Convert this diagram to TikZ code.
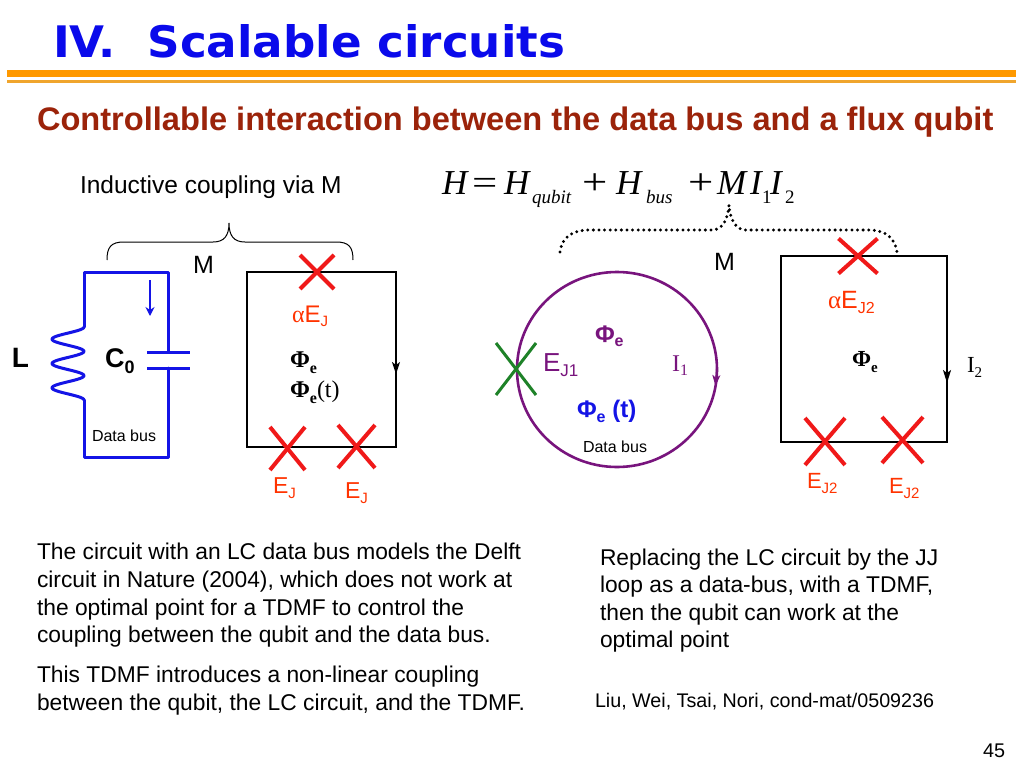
\documentclass[tikz,border=0pt]{standalone}
\usepackage{fontspec}
\usetikzlibrary{arrows.meta}
\setmainfont{Liberation Serif}
\setsansfont{Liberation Sans}
\newfontfamily\arial{Liberation Sans}
\newfontfamily\tnr{Liberation Serif}
\newfontfamily\heavy{DejaVu Sans}
\definecolor{titleblue}{RGB}{10,10,235}
\definecolor{subred}{RGB}{155,35,10}
\definecolor{orangeA}{RGB}{255,153,0}
\definecolor{orangeB}{RGB}{240,165,45}
\definecolor{busblue}{RGB}{20,20,230}
\definecolor{xred}{RGB}{240,25,25}
\definecolor{lred}{RGB}{255,51,0}
\definecolor{purp}{RGB}{120,20,125}
\definecolor{jgreen}{RGB}{30,130,40}
\newcommand\fs[1]{\fontsize{#1}{#1}\selectfont}
\newcommand\jjx[6]{\coordinate (#1) at (#2,#3);
  \draw[#6] (#1) ++(-#4,-#5) -- ++({2*#4},{2*#5});
  \draw[#6] (#1) ++(#4,-#5) -- ++({-2*#4},{2*#5});}
\begin{document}
\begin{tikzpicture}[x=1pt,y=-1pt,
  every node/.style={inner sep=0pt,outer sep=0pt},
  lbl/.style={anchor=base west},
  buswire/.style={line width=3pt,busblue,line cap=round,line join=round},
  qwire/.style={line width=2.6pt,black,line join=miter},
  jred/.style={line width=4pt,xred},
  jgrn/.style={line width=3pt,jgreen},
  body/.style={anchor=base west,font=\arial\fs{22.8}},
  dotbrace/.style={line width=3.3pt,line cap=round,dash pattern=on 0pt off 5.6pt}]
\useasboundingbox (0,0) rectangle (1024,768);
\fill[white] (0,0) rectangle (1024,768);

% ---- title and rules
\node[lbl,text=titleblue] (title) at (53,57) {\resizebox{512pt}{33pt}{\heavy\bfseries IV.\ \ Scalable circuits}};
\fill[orangeA] (7,70) rectangle (1016,77);
\fill[orangeB] (7,80) rectangle (1016,83);
\node[lbl,text=subred] (subtitle) at (37,130) {\arial\bfseries\fs{32.6}Controllable interaction between the data bus and a flux qubit};

% ---- left part
\node[lbl] (ind) at (80,193) {\arial\fs{24.5}Inductive coupling via M};
\draw[line width=1pt] (107,260) .. controls (107,247) and (111,242) .. (124,242) -- (213,242)
  .. controls (224,242) and (229,236) .. (229,223)
  .. controls (229,236) and (234,242) .. (245,242) -- (336,242)
  .. controls (349,242) and (353,247) .. (353,260);
\node[lbl] (mleft) at (193,273) {\arial\fs{25}M};

% LC data bus
\coordinate (tl) at (84,272);
\coordinate (tr) at (168,272);
\coordinate (bl) at (84,457);
\coordinate (br) at (168,457);
\coordinate (ltop) at (84,327);
\coordinate (lbot) at (84,400);
\coordinate (cp1) at (168,352);
\coordinate (cp2) at (168,368);
\draw[buswire] (ltop) -- (tl) -- (tr) -- (cp1);
\draw[buswire] (cp2) -- (br) -- (bl) -- (lbot);
\draw[buswire] plot[domain=0:1,samples=90,smooth] ({84-16*(1-cos(3*360*\x))},{327+73*\x});
\draw[buswire,line cap=butt] (147,352) -- (190,352);
\draw[buswire,line cap=butt] (147,368) -- (190,368);
\draw[busblue,line width=2pt,-{Stealth[length=9pt,width=9pt]}] (150,280) -- (150,316);
\node[lbl] (Llab) at (12,367) {\arial\bfseries\fs{28}L};
\node[lbl] (C0lab) at (105,367) {\arial\bfseries\fs{27}C\raisebox{-6pt}{\fs{18}0}};
\node[lbl] (dbl) at (92,441) {\arial\fs{16}Data bus};

% flux qubit left
\coordinate (q1a) at (247,272);
\coordinate (q1b) at (396,447);
\draw[qwire] (q1a) rectangle (q1b);
\draw[line width=1.6pt,-{Stealth[length=12pt,width=8pt,inset=3pt]}] (396,358) -- (396,374);
\jjx{ja}{317}{272}{17}{17}{jred}
\jjx{jb}{287.5}{448.5}{17.5}{21.5}{jred}
\jjx{jc}{356.5}{446.5}{18.5}{21.5}{jred}
\node[lbl,text=lred] (aej) at (292,322) {\fs{24}\tnr α\arial E\raisebox{-4pt}{\fs{15}J}};
\node[lbl] (phi1) at (290,367) {\tnr\bfseries\fs{24}Φ\raisebox{-6pt}{\fs{16}e}};
\node[lbl] (phi2) at (290,397) {\tnr\fs{24}{\bfseries Φ\raisebox{-6pt}{\fs{16}e}}(t)};
\node[lbl,text=lred] (ej1) at (273,493) {\arial\fs{23}E\raisebox{-5pt}{\fs{15}J}};
\node[lbl,text=lred] (ej2) at (345,498) {\arial\fs{23}E\raisebox{-5pt}{\fs{15}J}};

% ---- right part: Hamiltonian
\node[lbl] (hA) at (442,194) {\tnr\itshape\fs{35}H};
\node[lbl] (eq) at (472,194) {\tnr\fs{32}\scalebox{1.4}[1.1]{=}};
\node[lbl] (hB) at (504,194) {\tnr\itshape\fs{35}H};
\node[lbl] (sq) at (532,203) {\tnr\itshape\fs{19}qubit};
\node[lbl] (p1) at (582,194) {\tnr\fs{32}\scalebox{1.4}[1.15]{+}};
\node[lbl] (hC) at (616,194) {\tnr\itshape\fs{35}H};
\node[lbl] (sb) at (646,203) {\tnr\itshape\fs{19}bus};
\node[lbl] (p2) at (688,194) {\tnr\fs{32}\scalebox{1.4}[1.15]{+}};
\node[lbl] (mM) at (717,194) {\tnr\itshape\fs{35}M};
\node[lbl] (iA) at (750,194) {\tnr\itshape\fs{35}I};
\node[lbl] (s1) at (762,203) {\tnr\fs{19}1};
\node[lbl] (iB) at (770,194) {\tnr\itshape\fs{35}I};
\node[lbl] (s2) at (785,203) {\tnr\fs{19}2};

\draw[dotbrace] (560,252) .. controls (562,237) and (572,230) .. (590,230) -- (712,230)
  .. controls (722,230) and (728,220) .. (729,205)
  .. controls (730,220) and (736,230) .. (746,230) -- (868,230)
  .. controls (886,230) and (895,238) .. (897,252);
\node[lbl] (mright) at (714,270) {\arial\fs{25}M};

% JJ loop data bus
\coordinate (cc) at (617,369.5);
\draw[purp,line width=2.6pt] (cc) ellipse[x radius=100,y radius=97.5];
\draw[purp,line width=1.6pt,-{Stealth[length=11pt,width=8pt,inset=3pt]}] (717,366) -- (715.5,386);
\jjx{jg}{516}{369}{20}{26}{jgrn}
\node[lbl,text=purp] (ej1l) at (543,371) {\arial\fs{26}E\raisebox{-5pt}{\fs{17}J1}};
\node[lbl,text=purp] (phip) at (595,342) {\arial\bfseries\fs{24}Φ\raisebox{-4pt}{\fs{16}e}};
\node[lbl,text=purp] (i1) at (672,371) {\tnr\fs{24}I\raisebox{-4pt}{\fs{16}1}};
\node[lbl,text=busblue] (phib) at (577,417) {\arial\bfseries\fs{24}Φ\raisebox{-5pt}{\fs{16}e} (t)};
\node[lbl] (dbr) at (583,452) {\arial\fs{16}Data bus};

% flux qubit right
\coordinate (q2a) at (781,256);
\coordinate (q2b) at (947,442);
\draw[qwire] (q2a) rectangle (q2b);
\draw[line width=1.6pt,-{Stealth[length=13pt,width=8pt,inset=3pt]}] (947,364) -- (947,383);
\jjx{jd}{858}{256}{19.5}{17.5}{jred}
\jjx{je}{825}{441.5}{20}{23.5}{jred}
\jjx{jf}{902.5}{440}{20.5}{23}{jred}
\node[lbl,text=lred] (aej2) at (828,308) {\fs{25}\tnr α\arial E\raisebox{-5pt}{\fs{16}J2}};
\node[lbl] (phir) at (852,366) {\tnr\bfseries\fs{23}Φ\raisebox{-6pt}{\fs{15}e}};
\node[lbl] (i2) at (967,372) {\tnr\fs{23}I\raisebox{-5pt}{\fs{15}2}};
\node[lbl,text=lred] (ej2a) at (807,488) {\arial\fs{22}E\raisebox{-5pt}{\fs{15}J2}};
\node[lbl,text=lred] (ej2b) at (889,493) {\arial\fs{22}E\raisebox{-5pt}{\fs{15}J2}};

% ---- bottom texts
\node[body] (t1) at (37,559) {The circuit with an LC data bus models the Delft};
\node[body] (t2) at (37,587) {circuit in Nature (2004), which does not work at};
\node[body] (t3) at (37,615) {the optimal point for a TDMF to control the};
\node[body] (t4) at (37,642) {coupling between the qubit and the data bus.};
\node[body] (t5) at (37,682) {This TDMF introduces a non-linear coupling};
\node[body] (t6) at (37,710) {between the qubit, the LC circuit, and the TDMF.};
\node[body] (r1) at (600,565) {Replacing the LC circuit by the JJ};
\node[body] (r2) at (600,592) {loop as a data-bus, with a TDMF,};
\node[body] (r3) at (600,620) {then the qubit can work at the};
\node[body] (r4) at (600,647) {optimal point};
\node[lbl] (ref) at (595,707) {\arial\fs{19.7}Liu, Wei, Tsai, Nori, cond-mat/0509236};
\node[lbl] (pg) at (983,757) {\arial\fs{19.8}45};
\end{tikzpicture}
\end{document}
